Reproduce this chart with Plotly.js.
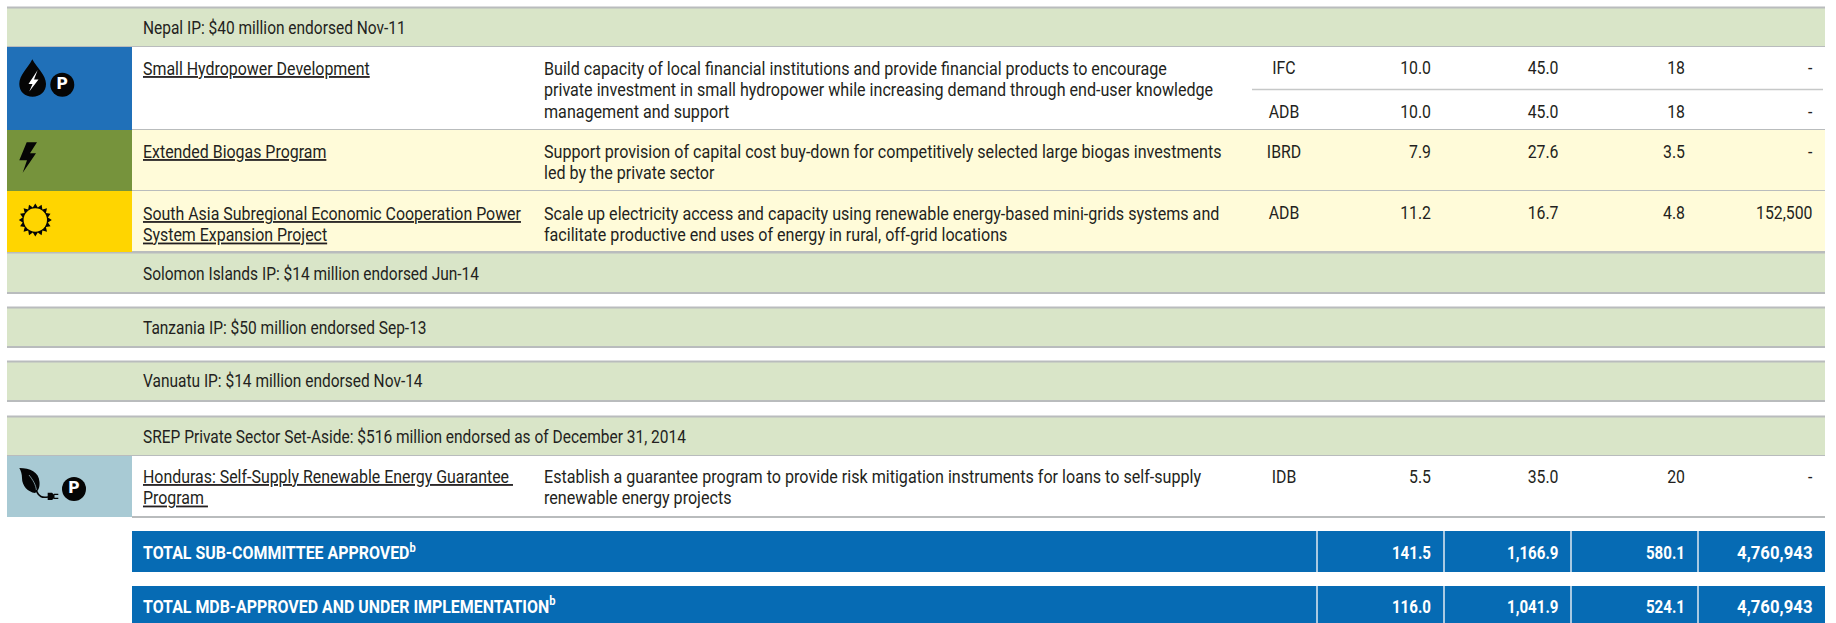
<!DOCTYPE html>
<html><head><meta charset="utf-8">
<script src="https://cdn.plot.ly/plotly-3.0.1.min.js"></script>
<style>html,body{margin:0;padding:0;background:#fff}#c{width:1836px;height:623px}</style>
</head><body><div id="c"></div>
<script>
// ---------- content ----------
const sectionLabels = ["Nepal IP: $40 million endorsed Nov-11","Solomon Islands IP: $14 million endorsed Jun-14","Tanzania IP: $50 million endorsed Sep-13","Vanuatu IP: $14 million endorsed Nov-14","SREP Private Sector Set-Aside: $516 million endorsed as of December 31, 2014"];
const projectNames = [["Small Hydropower Development"],["Extended Biogas Program"],["South Asia Subregional Economic Cooperation Power","System Expansion Project"],["Honduras: Self-Supply Renewable Energy Guarantee ","Program "]];
const projectDescriptions = [
 ["Build capacity of local financial institutions and provide financial products to encourage","private investment in small hydropower while increasing demand through end-user knowledge","management and support"],
 ["Support provision of capital cost buy-down for competitively selected large biogas investments","led by the private sector"],
 ["Scale up electricity access and capacity using renewable energy-based mini-grids systems and","facilitate productive end uses of energy in rural, off-grid locations"],
 ["Establish a guarantee program to provide risk mitigation instruments for loans to self-supply","renewable energy projects"]];
const mdbs     = ["IFC","ADB","IBRD","ADB","IDB"];
const colA     = ["10.0","10.0","7.9","11.2","5.5"];
const colB     = ["45.0","45.0","27.6","16.7","35.0"];
const colC     = ["18","18","3.5","4.8","20"];
const colD     = ["-","-","-","152,500","-"];
const totalLabels = ["TOTAL SUB-COMMITTEE APPROVED<sup>b</sup>","TOTAL MDB-APPROVED AND UNDER IMPLEMENTATION<sup>b</sup>"];
const totalA = ["141.5","116.0"];
const totalB = ["1,166.9","1,041.9"];
const totalC = ["580.1","524.1"];
const totalD = ["4,760,943","4,760,943"];

// ---------- layout grid (pixel scale of the hidden axes) ----------
const FONT = "Roboto, sans-serif";
const SIZE = 18, LH = 21.5, INK = "#231f20", RULE = "#b9bcbd";
const S_SECTION=0.861, S_NAME=0.885, S_DESC=0.895, S_CELL=0.88, S_TOTAL_LABEL=0.885, S_TOTAL=0.84, S_TOTAL_WIDE=0.93;
const X = {L:7,icon:132,name:143,desc:544,mdb:1284,a:1431,b:1558.5,c:1685,d:1812.5,R:1825};
const seps = [1317,1444,1571,1698];
const sectionBands = [[7,47,29.5],[252,293,275.5],[307,347,329.5],[361,401,383],[416,456,438.5]];
const rows = [[47,130,'#ffffff','#2070b8',70.5],[130,191,'#fffbd9','#76933c',153.5],[191,252,'#fffbd9','#ffd500',215.5],[456,517,'#ffffff','#a8cad4',478.5]];
const mdbY = [70,113.5,153.5,215,478.5];
const totalBands = [[531,572,555],[586,623,608.5]];

const shapes = [];
const rect=(x0,y0,x1,y1,fill)=>shapes.push({type:'rect',xref:'x',yref:'y',x0,y0,x1,y1,fillcolor:fill,line:{width:0},layer:'below'});
const hline=(x0,x1,y,col,w)=>shapes.push({type:'line',xref:'x',yref:'y',x0,x1,y0:y,y1:y,line:{color:col,width:w},layer:'below'});
const icon=(path,fill)=>shapes.push({type:'path',xref:'x',yref:'y',path,fillcolor:fill,line:{width:0},layer:'below'});
const circle=(cx,cy,r,fill)=>shapes.push({type:'circle',xref:'x',yref:'y',x0:cx-r,x1:cx+r,y0:cy-r,y1:cy+r,fillcolor:fill,line:{width:0},layer:'below'});
const stroke=(path,col,w)=>shapes.push({type:'path',xref:'x',yref:'y',path,line:{color:col,width:w},layer:'below'});

sectionBands.forEach(b=>{rect(X.L,b[0],X.R,b[1],'#d9e5c8');hline(X.L,X.R,b[0]+.5,RULE,2);hline(X.L,X.R,b[1],RULE,2);});
rows.forEach(r=>{rect(X.icon,r[0],X.R,r[1],r[2]);rect(X.L,r[0],X.icon,r[1],r[3]);hline(X.icon,X.R,r[1],RULE,2);});
hline(1252,1823,89.5,'#c6c8c8',1.5);
totalBands.forEach(b=>{rect(X.icon,b[0],X.R,b[1],'#066bb4');seps.forEach(s=>shapes.push({type:'line',xref:'x',yref:'y',x0:s,x1:s,y0:b[0],y1:b[1],line:{color:'#dfe9f2',width:1.5},layer:'below'}));});

// icons
const BK='#050505';
// hydropower drop + bolt
icon('M32.3 59.3 C28 68 19.3 75 19.3 84 C19.3 92 25 96.7 32.6 96.7 C40 96.7 46 92 46 84 C46 75 37 68 32.3 59.3 Z',BK);
icon('M37.7 70 L28.5 84 L32.5 84 L29.3 91.5 L38.5 79.5 L34 79.5 Z','#ffffff');
circle(62.3,84.7,12,BK);
// bolt on olive
icon('M26.7 142.3 L37 142.3 L30 153.3 L36 153.3 L22.7 172.7 L27 160.3 L19.3 160.3 Z',BK);
// sun
(function(){const cx=35.3,cy=220,n=16;let d='';for(let i=0;i<n*2;i++){const a=i*Math.PI/n,r=i%2?12.8:16.5;d+=(i?'L':'M')+(cx+r*Math.cos(a)).toFixed(1)+' '+(cy+r*Math.sin(a)).toFixed(1)+' ';}icon(d+'Z',BK);circle(cx,cy,11.7,'#ffd500');})();
// leaf + plug
icon('M19.3 468 C30 468 39 472 39.5 482 C40 488 38 491 35 493 C28 492 22 486 22 478 C22 474 21 471 19.3 468 Z',BK);
stroke('M29 475 C33 480 36 485 36.5 491','#a8cad4',0.7);
stroke('M36 490 C39 497 42 498 48 497','#050505',1.6);
icon('M47.7 492.7 L52 492.7 L54.5 495 L54.5 498 L52 500 L47.7 500 Z',BK);
stroke('M54 494.3 L58.3 494.3 M54 498.3 L58.3 498.3','#050505',1.3);
circle(74,489,12,BK);

// ---------- text traces ----------
const traces=[], stretch=[];
function addText(items,pos,font,sx){traces.push({type:'scatter',mode:'text',x:items.map(i=>i[0]),y:items.map(i=>i[1]),text:items.map(i=>i[2]),textposition:pos,textfont:Object.assign({family:FONT,size:SIZE,color:INK},font||{}),hoverinfo:'skip',showlegend:false,cliponaxis:false});stretch.push(sx);}
addText(sectionLabels.map((t,i)=>[X.name,sectionBands[i][2],t]),'middle right',null,S_SECTION);
const nameItems=[],descItems=[];
projectNames.forEach((ls,i)=>ls.forEach((t,j)=>nameItems.push([X.name,rows[i][4]+j*LH,t])));
projectDescriptions.forEach((ls,i)=>ls.forEach((t,j)=>descItems.push([X.desc,rows[i][4]+j*LH,t])));
addText(nameItems,'middle right',{lineposition:'under'},S_NAME);
addText(descItems,'middle right',null,S_DESC);
addText(mdbs.map((t,i)=>[X.mdb,mdbY[i],t]),'middle center',null,S_CELL);
[[colA,X.a],[colB,X.b],[colC,X.c],[colD,X.d]].forEach(c=>addText(c[0].map((t,i)=>[c[1],mdbY[i],t]),'middle left',null,S_CELL));
const W={color:'#ffffff',weight:700};
addText(totalLabels.map((t,i)=>[X.name,totalBands[i][2],t]),'middle right',W,S_TOTAL_LABEL);
[[totalA,X.a,S_TOTAL],[totalB,X.b,S_TOTAL],[totalC,X.c,S_TOTAL],[totalD,X.d,S_TOTAL_WIDE]].forEach(c=>addText(c[0].map((t,i)=>[c[1],totalBands[i][2],t]),'middle left',W,c[2]));
addText([[62.3,84.7,'P'],[74,489,'P']],'middle center',{color:'#ffffff',weight:900,size:17},1);

const axis={visible:false,showgrid:false,zeroline:false,fixedrange:true};
Plotly.newPlot('c',traces,{width:1836,height:623,margin:{l:0,r:0,t:0,b:0},paper_bgcolor:'#ffffff',plot_bgcolor:'#ffffff',showlegend:false,
 xaxis:Object.assign({range:[0,1836]},axis),yaxis:Object.assign({range:[623,0]},axis),shapes},{staticPlot:true,displayModeBar:false}).then(gd=>{
  // the reference face is condensed: narrow each drawn text about its anchor
  gd.querySelectorAll('.scatterlayer .trace').forEach((g,k)=>{
    g.querySelectorAll('.textpoint text').forEach(t=>{
      const x=parseFloat(t.getAttribute('x'));
      t.setAttribute('transform',`translate(${x} 0) scale(${stretch[k]} 1) translate(${-x} 0)`);
    });
  });
});
</script></body></html>
